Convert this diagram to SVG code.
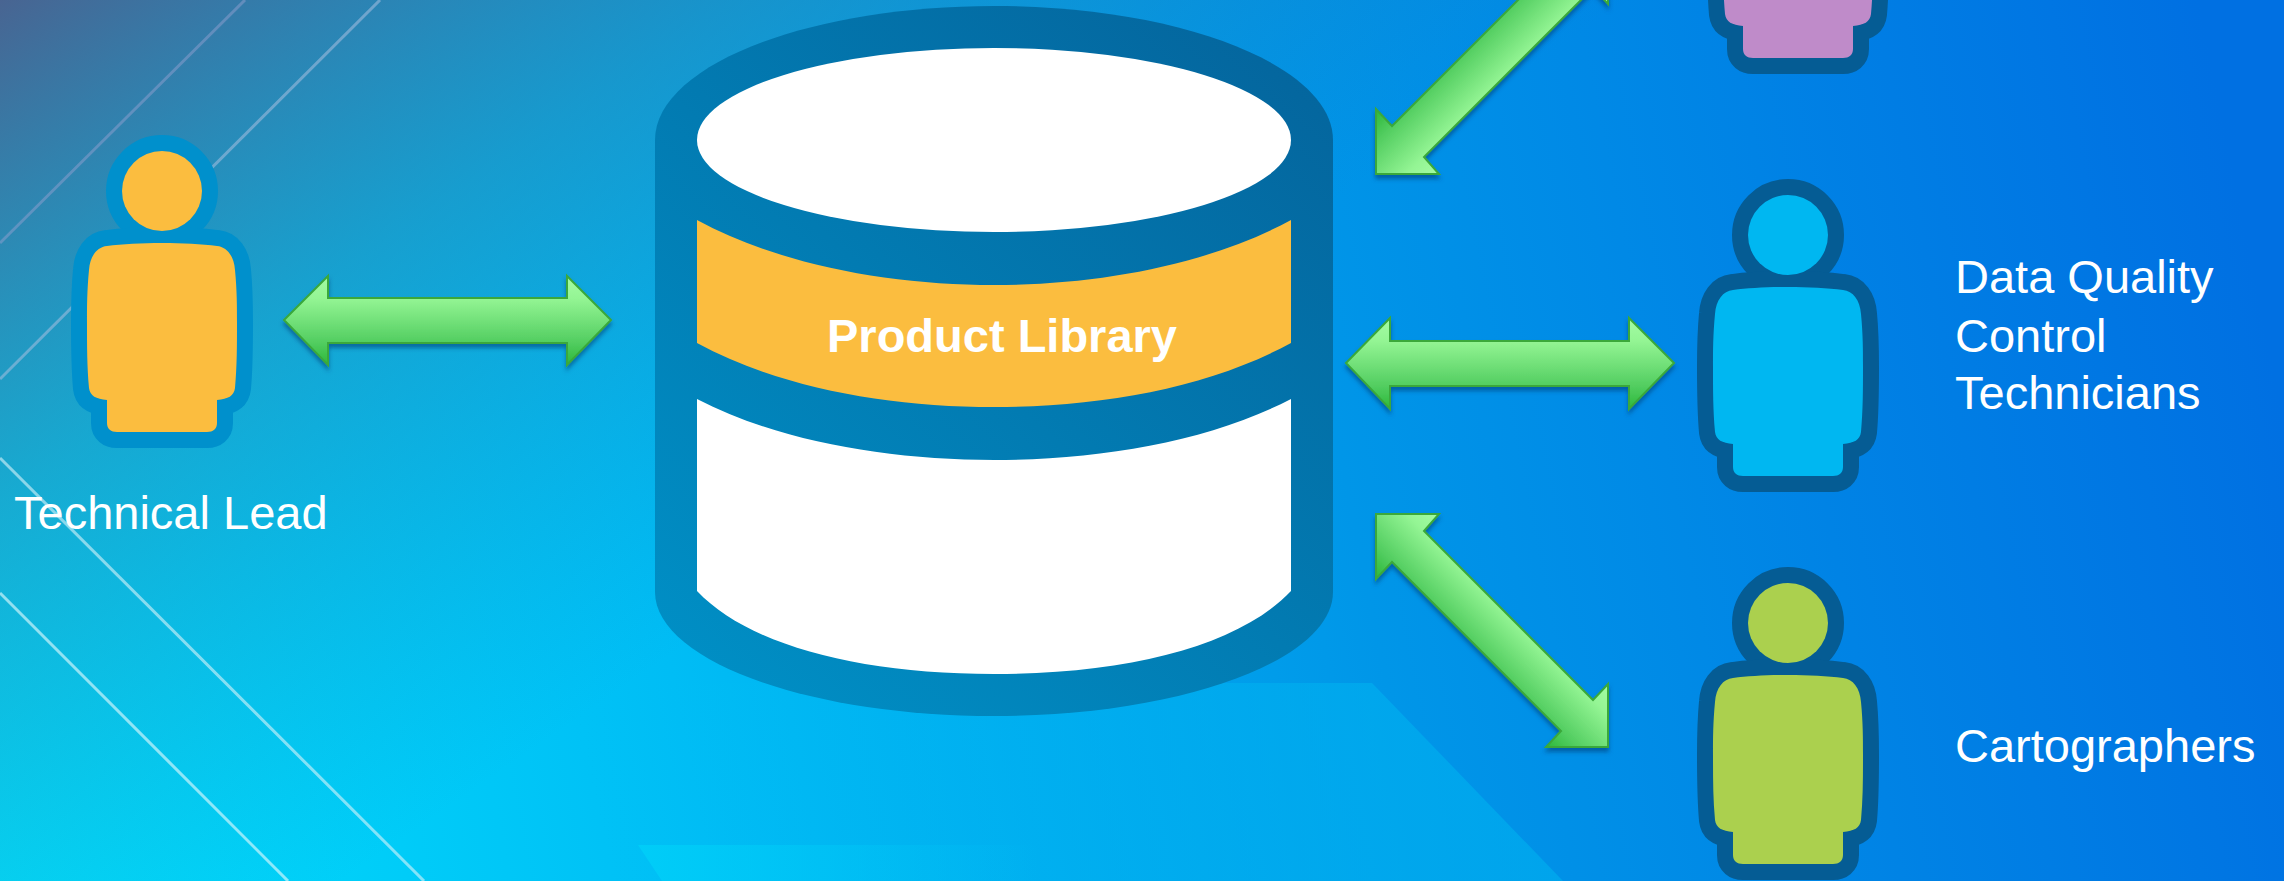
<svg xmlns="http://www.w3.org/2000/svg" xmlns:xlink="http://www.w3.org/1999/xlink" width="2284" height="881" viewBox="0 0 2284 881">
<style>
text{font-family:"Liberation Sans",Arial,sans-serif;fill:#fff;font-size:47px}
.bold{font-weight:bold}
.arrow{stroke:#3aa83a;stroke-width:2;filter:url(#shadow)}
.ol{stroke-width:32;stroke-linejoin:round}
.ol1{fill:#0090cc;stroke:#0090cc}
.ol2{fill:#055c94;stroke:#055c94}
.bgline{fill:none;stroke-width:3}
</style>
<defs>
<linearGradient id="bgBase" gradientUnits="userSpaceOnUse" x1="0" y1="881" x2="2284" y2="420">
<stop offset="0" stop-color="#00e0fc"/><stop offset=".3" stop-color="#00bdf5"/><stop offset=".6" stop-color="#0096e8"/><stop offset="1" stop-color="#0070e2"/>
</linearGradient>
<linearGradient id="bgTop" gradientUnits="userSpaceOnUse" x1="0" y1="0" x2="520" y2="760">
<stop offset="0" stop-color="#55507f" stop-opacity=".85"/><stop offset=".45" stop-color="#336f9f" stop-opacity=".45"/><stop offset="1" stop-color="#1e80b8" stop-opacity="0"/>
</linearGradient>
<linearGradient id="fadeL" gradientUnits="userSpaceOnUse" x1="560" y1="0" x2="1372" y2="0">
<stop offset="0" stop-color="#00c0f4" stop-opacity="0"/><stop offset="1" stop-color="#00b4f0" stop-opacity=".55"/>
</linearGradient>
<linearGradient id="fadeR" gradientUnits="userSpaceOnUse" x1="638" y1="0" x2="1040" y2="0">
<stop offset="0" stop-color="#00d0f8" stop-opacity=".8"/><stop offset="1" stop-color="#00c8f6" stop-opacity="0"/>
</linearGradient>
<linearGradient id="cyl" gradientUnits="userSpaceOnUse" x1="700" y1="716" x2="1290" y2="60">
<stop offset="0" stop-color="#0090c6"/><stop offset="1" stop-color="#04669e"/>
</linearGradient>
<linearGradient id="gH" x1="0" y1="0" x2="0" y2="1">
<stop offset="0" stop-color="#a4fca4"/><stop offset=".25" stop-color="#94f594"/><stop offset=".75" stop-color="#52cd60"/><stop offset="1" stop-color="#2db83a"/>
</linearGradient>
<linearGradient id="gD1" gradientUnits="userSpaceOnUse" x1="1523.5" y1="599" x2="1460.5" y2="662">
<stop offset="0" stop-color="#a4fca4"/><stop offset=".25" stop-color="#94f594"/><stop offset=".75" stop-color="#52cd60"/><stop offset="1" stop-color="#2db83a"/>
</linearGradient>
<linearGradient id="gD2" gradientUnits="userSpaceOnUse" x1="1523.5" y1="89" x2="1460.5" y2="26">
<stop offset="0" stop-color="#a4fca4"/><stop offset=".25" stop-color="#94f594"/><stop offset=".75" stop-color="#52cd60"/><stop offset="1" stop-color="#2db83a"/>
</linearGradient>
<filter id="shadow" x="-10%" y="-10%" width="120%" height="125%">
<feDropShadow dx="0" dy="4" stdDeviation="2" flood-color="#003a70" flood-opacity=".55"/>
</filter>
<g id="fig">
<ellipse cx="0" cy="0" rx="40" ry="40"/>
<path d="M0 52C20 52 40 53 55 55C65 56 72 65 73 79C75 100 75 115 75 132C75 155 75 175 73 197C72 205 66 208 55 209V232C55 238 51 241 45 241H-45C-51 241 -55 238 -55 232V209C-66 208 -72 205 -73 197C-75 175 -75 155 -75 132C-75 115 -75 100 -73 79C-72 65 -65 56 -55 55C-40 53 -20 52 0 52Z"/>
</g>
</defs>

<g id="background">
<rect width="2284" height="881" fill="url(#bgBase)"/>
<rect width="2284" height="881" fill="url(#bgTop)"/>
<polygon points="560,683 1372,683 1563,881 620,881" fill="url(#fadeL)"/>
<polygon points="638,845 1040,845 1075,881 662,881" fill="url(#fadeR)"/>
<line class="bgline" x1="0" y1="243" x2="245" y2="0" stroke="#8f9fd0" stroke-opacity=".5"/>
<line class="bgline" x1="0" y1="379" x2="380" y2="0" stroke="#a8bfe0" stroke-opacity=".55"/>
<line class="bgline" x1="0" y1="458" x2="424" y2="881" stroke="#d8f4fa" stroke-opacity=".6"/>
<line class="bgline" x1="0" y1="593" x2="288" y2="881" stroke="#d8f8fc" stroke-opacity=".65"/>
</g>

<g id="connectors">
<polygon class="arrow" fill="url(#gH)" points="284,320 328,276 328,298 567,298 567,276 611,320 567,365 567,343 328,343 328,365"/>
<polygon class="arrow" fill="url(#gH)" points="1346,363 1390,318 1390,341 1629,341 1629,318 1674,363 1629,409 1629,386 1390,386 1390,409"/>
<polygon class="arrow" fill="url(#gD1)" points="1376,514 1439,514 1424,531 1593,700 1608,684 1608,747 1546,747 1561,731 1392,562 1376,579"/>
<polygon class="arrow" fill="url(#gD2)" points="1376,174 1439,174 1424,157 1593,-12 1608,4 1608,-59 1546,-59 1561,-43 1392,126 1376,109"/>
</g>

<g id="product-library">
<path fill="url(#cyl)" d="M655 140C655 66 807 6 994 6S1333 66 1333 140V592C1333 660 1181 716 994 716S655 660 655 592Z"/>
<ellipse cx="994" cy="140" rx="297" ry="92" fill="#fff"/>
<path fill="#fbbd3f" d="M697 220C780 265 890 285 994 285S1208 265 1291 220V343C1208 388 1100 407 994 407S780 388 697 343Z"/>
<path fill="#fff" d="M697 399C780 442 890 460 994 460S1208 442 1291 399V591C1240 645 1130 674 994 674S748 645 697 591Z"/>
<text class="bold" x="1002" y="352" text-anchor="middle">Product Library</text>
</g>

<g id="technical-lead">
<use href="#fig" x="162" y="191" class="ol ol1"/>
<use href="#fig" x="162" y="191" fill="#fbbd3f"/>
<text x="14" y="529">Technical Lead</text>
</g>

<g id="publisher">
<use href="#fig" x="1798" y="-183" class="ol ol2"/>
<use href="#fig" x="1798" y="-183" fill="#bf8bc9"/>
</g>

<g id="data-quality">
<use href="#fig" x="1788" y="235" class="ol ol2"/>
<use href="#fig" x="1788" y="235" fill="#00b7f1"/>
<text x="1955" y="293">Data Quality</text>
<text x="1955" y="352">Control</text>
<text x="1955" y="409">Technicians</text>
</g>

<g id="cartographers">
<use href="#fig" x="1788" y="623" class="ol ol2"/>
<use href="#fig" x="1788" y="623" fill="#abd04e"/>
<text x="1955" y="762">Cartographers</text>
</g>
</svg>
